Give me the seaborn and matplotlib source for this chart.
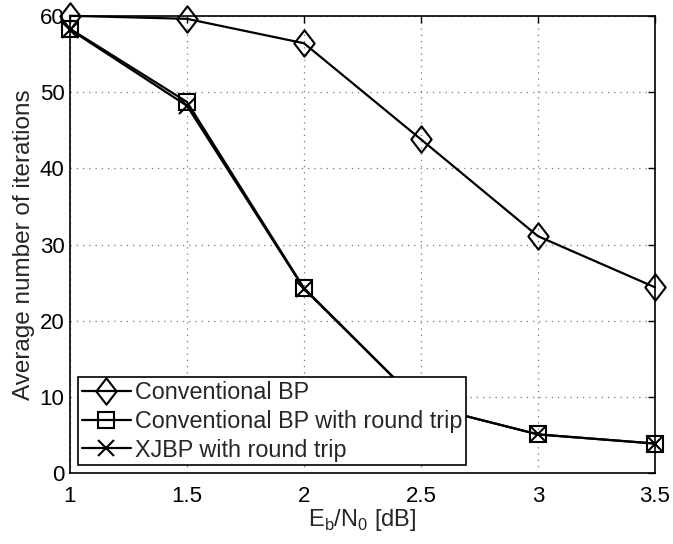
import matplotlib
matplotlib.use("Agg")
import matplotlib.pyplot as plt
import seaborn as sns
import numpy as np
import pandas as pd
from matplotlib.path import Path
from matplotlib.ticker import FormatStrFormatter

# Data
ebn0 = [1.0, 1.5, 2.0, 2.5, 3.0, 3.5]
conv_bp = [60.0, 59.6, 56.4, 43.8, 31.1, 24.4]
conv_bp_rt = [58.3, 48.7, 24.3, 9.0, 5.1, 3.9]
xjbp_rt = [58.2, 48.2, 24.2, 9.0, 5.1, 3.9]
series_labels = ["Conventional BP", "Conventional BP with round trip", "XJBP with round trip"]
xticks = [1, 1.5, 2, 2.5, 3, 3.5]
yticks = [0, 10, 20, 30, 40, 50, 60]

sns.set_theme(style="white")
plt.rcParams['font.family'] = ['Liberation Sans', 'DejaVu Sans']
plt.rcParams['mathtext.fontset'] = 'custom'
plt.rcParams['mathtext.rm'] = 'Liberation Sans'

fig = plt.figure(figsize=(6.73, 5.44), dpi=100)
ax = fig.add_axes([0.104, 0.130, 0.869, 0.841])

diamond = Path([(0, 1), (0.77, 0), (0, -1), (-0.77, 0), (0, 1)],
               [Path.MOVETO, Path.LINETO, Path.LINETO, Path.LINETO, Path.CLOSEPOLY])

df1 = pd.DataFrame({"x": ebn0, "y": conv_bp})
df2 = pd.DataFrame({"x": ebn0, "y": conv_bp_rt})
df3 = pd.DataFrame({"x": ebn0, "y": xjbp_rt})

common = dict(color="black", linewidth=1.6, markeredgewidth=1.5, markerfacecolor="none",
              markeredgecolor="black", ax=ax, clip_on=False)
sns.lineplot(data=df1, x="x", y="y", marker=diamond, markersize=19, label=series_labels[0], **common)
sns.lineplot(data=df2, x="x", y="y", marker="s", markersize=11.5, label=series_labels[1], **common)
sns.lineplot(data=df3, x="x", y="y", marker="x", markersize=11, label=series_labels[2], **common)

ax.set_xlim(1, 3.5)
ax.set_ylim(0, 60)
ax.set_xticks(xticks)
ax.set_yticks(yticks)
ax.xaxis.set_major_formatter(FormatStrFormatter('%g'))
ax.yaxis.set_major_formatter(FormatStrFormatter('%g'))
ax.tick_params(direction="in", length=5, width=1, top=True, right=True,
               labelsize=16, colors="black")
ax.tick_params(axis="x", pad=9)
ax.tick_params(axis="y", pad=4)
for sp in ax.spines.values():
    sp.set_visible(True)
    sp.set_color("black")
    sp.set_linewidth(1.2)
ax.grid(True, linestyle=(0, (1, 4)), color="#777777", linewidth=0.9)

ax.set_xlabel(r"E$_\mathregular{b}$/N$_\mathregular{0}$ [dB]", fontsize=17, labelpad=0)
ax.set_ylabel("Average number of iterations", fontsize=17.5, labelpad=3)

leg = ax.legend(loc="lower left", fontsize=16.8, frameon=True, fancybox=False,
                framealpha=1, edgecolor="black", handlelength=2.1, handletextpad=0.2,
                borderpad=0.15, labelspacing=0.25, borderaxespad=0.35)
leg.get_frame().set_linewidth(1.2)

fig.savefig("out.png", dpi=100)
